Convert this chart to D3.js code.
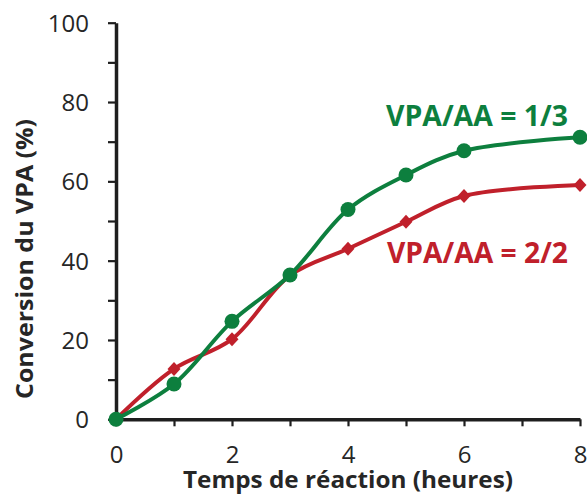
<!DOCTYPE html>
<html><head><meta charset="utf-8">
<script src="https://cdn.jsdelivr.net/npm/d3@7"></script>
<style>body{margin:0;background:#fff}svg{display:block}</style>
</head><body>
<svg id="c" width="587" height="494"></svg>
<script>
const hours = [0, 1, 2, 3, 4, 5, 6, 8];
const conv13 = [0, 8.9, 24.7, 36.4, 52.9, 61.6, 67.7, 71.1];
const conv22 = [0, 12.7, 20.2, 36.3, 43.0, 49.8, 56.3, 59.1];
const xTicks = [0, 2, 4, 6, 8];
const yTicks = [0, 20, 40, 60, 80, 100];
const label13 = "VPA/AA = 1/3";
const label22 = "VPA/AA = 2/2";
const xTitle = "Temps de réaction (heures)";
const yTitle = "Conversion du VPA (%)";

const green = "#0d7f3e", red = "#c0202b", axisCol = "#1e1e1e", txtCol = "#262626";
const svg = d3.select("#c");
const x = d3.scaleLinear().domain([0, 8]).range([116, 580]);
const y = d3.scaleLinear().domain([0, 100]).range([419.3, 22.7]);

// axes
const yAxis = d3.axisLeft(y).tickValues(d3.range(0, 101, 10)).tickSize(8).tickSizeOuter(0)
  .tickFormat(d => yTicks.includes(d) ? d : "");
const gy = svg.append("g").attr("transform", "translate(116,0)").call(yAxis);
const xAxis = d3.axisBottom(x).tickValues(d3.range(0, 9, 1)).tickSize(7).tickSizeOuter(0)
  .tickFormat(d => xTicks.includes(d) ? d : "");
const gx = svg.append("g").attr("transform", "translate(0,419.3)").call(xAxis);
[gx, gy].forEach(g => {
  g.select(".domain").attr("stroke", axisCol).attr("stroke-width", 3.5);
  g.selectAll(".tick line").attr("stroke", axisCol).attr("stroke-width", 2.2);
  g.selectAll(".tick text").attr("fill", txtCol).attr("font-family", "'Open Sans', sans-serif")
    .attr("font-size", 24);
});
gy.selectAll(".tick text").attr("x", -27).attr("dy", "0.36em");
gx.selectAll(".tick text").attr("y", 27).attr("dy", "0.71em");

// lines
const line = d3.line().x(d => x(d[0])).y(d => y(d[1])).curve(d3.curveCatmullRom.alpha(0.5));
const s22 = hours.map((h, i) => [h, conv22[i]]);
const s13 = hours.map((h, i) => [h, conv13[i]]);

svg.append("path").datum(s22).attr("d", line).attr("fill", "none").attr("stroke", red).attr("stroke-width", 4);
svg.append("g").selectAll("path").data(s22).join("path")
  .attr("transform", d => `translate(${x(d[0])},${y(d[1])})`)
  .attr("d", "M0,-7L6.5,0L0,7L-6.5,0Z").attr("fill", red);

svg.append("path").datum(s13).attr("d", line).attr("fill", "none").attr("stroke", green).attr("stroke-width", 4);
svg.append("g").selectAll("circle").data(s13).join("circle")
  .attr("cx", d => x(d[0])).attr("cy", d => y(d[1])).attr("r", 7.5).attr("fill", green);

// labels
svg.append("text").attr("x", 386).attr("y", 126).text(label13)
  .attr("font-family", "'Open Sans', sans-serif").attr("font-weight", "bold").attr("font-size", 29)
  .attr("fill", green).attr("textLength", 182).attr("lengthAdjust", "spacingAndGlyphs");
svg.append("text").attr("x", 387).attr("y", 263).text(label22)
  .attr("font-family", "'Open Sans', sans-serif").attr("font-weight", "bold").attr("font-size", 29)
  .attr("fill", red).attr("textLength", 181).attr("lengthAdjust", "spacingAndGlyphs");

// axis titles
svg.append("text").attr("x", 348).attr("y", 488).attr("text-anchor", "middle").text(xTitle)
  .attr("font-family", "'Open Sans', sans-serif").attr("font-weight", "bold").attr("font-size", 23)
  .attr("fill", txtCol).attr("textLength", 330).attr("lengthAdjust", "spacingAndGlyphs");
svg.append("text").attr("transform", "translate(33,259) rotate(-90)").attr("text-anchor", "middle").text(yTitle)
  .attr("font-family", "'Open Sans', sans-serif").attr("font-weight", "bold").attr("font-size", 24)
  .attr("fill", txtCol).attr("textLength", 280).attr("lengthAdjust", "spacingAndGlyphs");
</script>
</body></html>
